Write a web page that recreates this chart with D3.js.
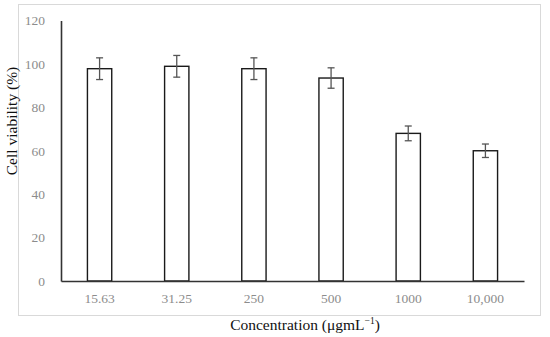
<!DOCTYPE html>
<html>
<head>
<meta charset="utf-8">
<script src="https://cdn.jsdelivr.net/npm/d3@7"></script>
<style>
  body { margin: 0; background: #fff; }
  svg text { font-family: "Liberation Serif", "DejaVu Serif", serif; }
</style>
</head>
<body>
<div id="chart"></div>
<script>
// data
const concentrations = ["15.63", "31.25", "250", "500", "1000", "10,000"];
const viability = [97.8, 98.9, 97.8, 93.5, 68, 60];
const errors = [5, 5, 5, 4.7, 3.4, 3.1];
const yTicks = [0, 20, 40, 60, 80, 100, 120];

// canvas
const width = 550, height = 337;
const margin = {top: 20.5, right: 26, bottom: 56, left: 61};
const innerW = width - margin.left - margin.right;
const innerH = height - margin.top - margin.bottom;

const svg = d3.select("#chart").append("svg")
  .attr("width", width).attr("height", height);

// outer frame
svg.append("rect")
  .attr("x", 18.5).attr("y", 4.5)
  .attr("width", 522).attr("height", 311)
  .attr("fill", "none").attr("stroke", "#d9d9d9").attr("stroke-width", 1);

const g = svg.append("g")
  .attr("transform", `translate(${margin.left},${margin.top})`);

// scales
const x = d3.scaleBand().domain(concentrations).range([0, innerW]).paddingInner(0.685).paddingOuter(0.3425);
const y = d3.scaleLinear().domain([0, 120]).range([innerH, 0]);

// bars
g.selectAll("rect.bar").data(viability).join("rect")
  .attr("class", "bar")
  .attr("x", (d, i) => x(concentrations[i]))
  .attr("y", d => y(d))
  .attr("width", x.bandwidth())
  .attr("height", d => innerH - y(d))
  .attr("fill", "#fff").attr("stroke", "#1a1a1a").attr("stroke-width", 1.4);

// error bars
const eb = g.selectAll("g.err").data(viability).join("g").attr("class", "err")
  .attr("stroke", "#555").attr("stroke-width", 1.3);
eb.append("line")
  .attr("x1", (d, i) => x(concentrations[i]) + x.bandwidth() / 2)
  .attr("x2", (d, i) => x(concentrations[i]) + x.bandwidth() / 2)
  .attr("y1", (d, i) => y(d + errors[i]))
  .attr("y2", (d, i) => y(d - errors[i]));
[1, -1].forEach(s => {
  eb.append("line")
    .attr("x1", (d, i) => x(concentrations[i]) + x.bandwidth() / 2 - 3.5)
    .attr("x2", (d, i) => x(concentrations[i]) + x.bandwidth() / 2 + 3.5)
    .attr("y1", (d, i) => y(d + s * errors[i]))
    .attr("y2", (d, i) => y(d + s * errors[i]));
});

// axes
const yAxis = g.append("g")
  .call(d3.axisLeft(y).tickValues(yTicks).tickSize(0).tickPadding(16));
yAxis.select(".domain").attr("stroke", "#333").attr("stroke-width", 1.6);
yAxis.selectAll("text").attr("fill", "#8c8c8c").attr("font-size", 13.5)
  .attr("font-family", "Liberation Serif");

const xAxis = g.append("g")
  .attr("transform", `translate(0,${innerH})`)
  .call(d3.axisBottom(x).tickSize(0).tickPadding(12));
xAxis.select(".domain").attr("stroke", "#333").attr("stroke-width", 1.6);
xAxis.selectAll("text").attr("fill", "#8c8c8c").attr("font-size", 13.5)
  .attr("font-family", "Liberation Serif");

// axis titles
svg.append("text")
  .attr("transform", "translate(17,121) rotate(-90)")
  .attr("text-anchor", "middle")
  .attr("font-size", 15.5).attr("fill", "#111")
  .text("Cell viability (%)");

const xt = svg.append("text")
  .attr("x", 305).attr("y", 330)
  .attr("text-anchor", "middle")
  .attr("font-size", 15.5).attr("fill", "#111")
  .text("Concentration (μgmL");
xt.append("tspan").attr("dy", -6).attr("font-size", 9.5).text("−1");
xt.append("tspan").attr("dy", 6).text(")");
</script>
</body>
</html>
